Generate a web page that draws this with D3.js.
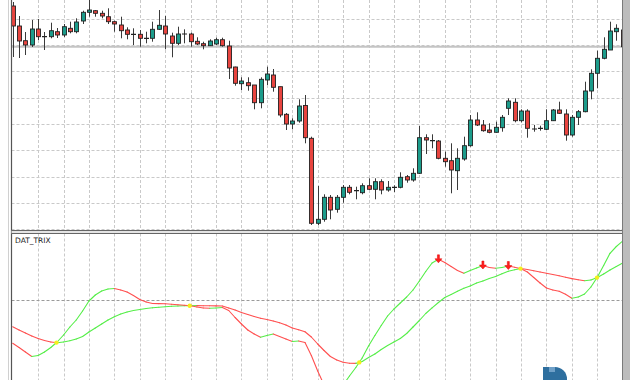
<!DOCTYPE html>
<html>
<head>
<meta charset="utf-8">
<script src="https://cdnjs.cloudflare.com/ajax/libs/d3/7.8.5/d3.min.js"></script>
<style>
body { margin:0; background:#ffffff; }
svg { display:block; }
</style>
</head>
<body>
<div id="chart"></div>
<script>
//Candles, bar 0 .. 96 (last one is the running bar)
const opens = [
  1.32340,1.32140,1.31993,1.31950,1.32110,1.32033,1.32033,1.32083,1.32050,1.32117,
  1.32083,1.32190,1.32277,1.32293,1.32267,1.32233,1.32183,1.32150,1.32100,1.32057,
  1.32057,1.32017,1.32017,1.32107,1.32140,1.32040,1.31967,1.32060,1.32060,1.31987,
  1.31963,1.31943,1.31960,1.32003,1.31940,1.31730,1.31563,1.31573,1.31550,1.31373,
  1.31600,1.31650,1.31533,1.31257,1.31160,1.31190,1.31345,1.31017,1.30167,1.30207,
  1.30427,1.30307,1.30427,1.30527,1.30493,1.30473,1.30543,1.30507,1.30583,1.30500,
  1.30527,1.30527,1.30633,1.30600,1.30667,1.31023,1.30993,1.30990,1.30817,1.30793,
  1.30693,1.30810,1.30943,1.31200,1.31150,1.31100,1.31077,1.31123,1.31317,1.31377,
  1.31193,1.31290,1.31110,1.31117,1.31107,1.31193,1.31300,1.31260,1.31050,1.31227,
  1.31283,1.31490,1.31667,1.31817,1.31900,1.32083,1.32100];
const highs = [
  1.32380,1.32240,1.32080,1.32200,1.32210,1.32080,1.32173,1.32120,1.32160,1.32183,
  1.32217,1.32293,1.32400,1.32300,1.32293,1.32317,1.32193,1.32233,1.32127,1.32117,
  1.32100,1.32083,1.32183,1.32300,1.32240,1.32073,1.32133,1.32107,1.32073,1.32027,
  1.31983,1.32007,1.32023,1.32023,1.31993,1.31733,1.31627,1.31627,1.31550,1.31627,
  1.31733,1.31710,1.31533,1.31270,1.31217,1.31407,1.31450,1.31033,1.30540,1.30457,
  1.30450,1.30450,1.30550,1.30550,1.30533,1.30567,1.30617,1.30617,1.30607,1.30590,
  1.30547,1.30677,1.30650,1.30717,1.31140,1.31057,1.31057,1.31000,1.30883,1.30967,
  1.30917,1.31033,1.31250,1.31277,1.31200,1.31167,1.31183,1.31250,1.31417,1.31417,
  1.31307,1.31307,1.31150,1.31143,1.31307,1.31310,1.31383,1.31307,1.31250,1.31300,
  1.31583,1.31707,1.31893,1.32027,1.32183,1.32157,1.32120];
const lows = [
  1.31830,1.31820,1.31850,1.31930,1.32000,1.31900,1.32017,1.32020,1.32030,1.32067,
  1.32067,1.32160,1.32233,1.32233,1.32217,1.32160,1.32083,1.32017,1.32007,1.31950,
  1.31933,1.31967,1.31983,1.32100,1.31907,1.31827,1.31950,1.31967,1.31933,1.31950,
  1.31907,1.31940,1.31950,1.31933,1.31610,1.31543,1.31500,1.31493,1.31307,1.31317,
  1.31550,1.31483,1.31227,1.31100,1.31107,1.31173,1.30967,1.30150,1.30150,1.30183,
  1.30207,1.30273,1.30373,1.30457,1.30407,1.30457,1.30500,1.30407,1.30457,1.30483,
  1.30480,1.30517,1.30573,1.30583,1.30660,1.30860,1.30917,1.30807,1.30733,1.30467,
  1.30500,1.30793,1.30933,1.31140,1.31083,1.31067,1.31073,1.31083,1.31250,1.31177,
  1.31177,1.31023,1.31083,1.31093,1.31100,1.31190,1.31260,1.30993,1.31033,1.31150,
  1.31277,1.31407,1.31517,1.31807,1.31900,1.31993,1.31930];
const closes = [
  1.32140,1.31990,1.31950,1.32110,1.32033,1.32033,1.32093,1.32050,1.32133,1.32083,
  1.32180,1.32277,1.32300,1.32267,1.32240,1.32183,1.32160,1.32093,1.32057,1.32057,
  1.32017,1.32017,1.32107,1.32147,1.32060,1.31967,1.32060,1.32060,1.31983,1.31960,
  1.31943,1.31990,1.32003,1.31943,1.31720,1.31567,1.31590,1.31543,1.31373,1.31607,
  1.31660,1.31527,1.31250,1.31160,1.31190,1.31340,1.31023,1.30167,1.30207,1.30427,
  1.30300,1.30427,1.30527,1.30477,1.30493,1.30543,1.30507,1.30583,1.30500,1.30527,
  1.30527,1.30627,1.30600,1.30667,1.31023,1.31000,1.30993,1.30817,1.30783,1.30700,
  1.30817,1.30943,1.31200,1.31150,1.31093,1.31077,1.31127,1.31227,1.31390,1.31193,
  1.31290,1.31117,1.31110,1.31117,1.31193,1.31300,1.31267,1.31050,1.31227,1.31283,
  1.31490,1.31667,1.31817,1.31907,1.32090,1.32117,1.31933];

//DAT_TRIX sub window values
const trixMain = [
  -0.0433,-0.0475,-0.0520,-0.0565,-0.0555,-0.0520,-0.0475,-0.0420,-0.0350,-0.0270,
  -0.0200,-0.0110,-0.0010,0.0050,0.0090,0.0110,0.0115,0.0100,0.0080,0.0045,
  0.0005,-0.0020,-0.0035,-0.0036,-0.0038,-0.0042,-0.0048,-0.0052,-0.0058,-0.0070,
  -0.0080,-0.0083,-0.0080,-0.0075,-0.0105,-0.0175,-0.0240,-0.0300,-0.0340,-0.0373,
  -0.0355,-0.0340,-0.0365,-0.0390,-0.0415,-0.0410,-0.0425,-0.0555,-0.0710,-0.0850,
  -0.0930,-0.0920,-0.0850,-0.0760,-0.0675,-0.0580,-0.0460,-0.0355,-0.0255,-0.0160,
  -0.0090,-0.0030,0.0030,0.0100,0.0190,0.0285,0.0370,0.0407,0.0375,0.0335,
  0.0295,0.0267,0.0295,0.0320,0.0345,0.0325,0.0317,0.0325,0.0340,0.0327,
  0.0313,0.0280,0.0225,0.0170,0.0120,0.0100,0.0087,0.0057,0.0017,0.0030,
  0.0060,0.0130,0.0228,0.0345,0.0467,0.0535,0.0590];
const trixSignal = [
  -0.0267,-0.0300,-0.0330,-0.0360,-0.0385,-0.0405,-0.0420,-0.0427,-0.0420,-0.0407,
  -0.0390,-0.0365,-0.0320,-0.0280,-0.0240,-0.0200,-0.0167,-0.0140,-0.0120,-0.0105,
  -0.0095,-0.0085,-0.0078,-0.0073,-0.0068,-0.0063,-0.0060,-0.0058,-0.0057,-0.0056,
  -0.0057,-0.0058,-0.0059,-0.0060,-0.0080,-0.0100,-0.0125,-0.0145,-0.0165,-0.0183,
  -0.0195,-0.0210,-0.0228,-0.0250,-0.0280,-0.0298,-0.0318,-0.0370,-0.0440,-0.0505,
  -0.0565,-0.0600,-0.0623,-0.0632,-0.0634,-0.0615,-0.0575,-0.0540,-0.0495,-0.0455,
  -0.0420,-0.0385,-0.0335,-0.0270,-0.0205,-0.0135,-0.0078,-0.0025,0.0025,0.0055,
  0.0087,0.0117,0.0140,0.0170,0.0190,0.0215,0.0235,0.0262,0.0287,0.0302,
  0.0315,0.0305,0.0292,0.0280,0.0267,0.0255,0.0242,0.0228,0.0214,0.0202,
  0.0193,0.0200,0.0225,0.0260,0.0300,0.0335,0.0370];
const sellArrowBars = [67, 74, 78];

//grid levels
const gridPrices = [1.32210,1.31948,1.31685,1.31423,1.31160,1.30898,1.30635,1.30373,1.30110];
const gridBarStep = 4;

//layout
const cWidth = 630, cHeight = 380;
const plotLeft = 11.5, plotRight = 622;
const mainTop = 0, mainBottom = 230.5;
const subTop = 233.5, subBottom = 380;
const colorBull = "#1c9c8b";
const colorBear = "#e8443f";
const colorUp = "#55ee48";
const colorDown = "#ff5050";
const colorGrid = "#c9c9c9";

let svg = d3.select("#chart").append("svg")
  .attr("width", cWidth)
  .attr("height", cHeight);

svg.append("rect").attr("width", "100%").attr("height", "100%").attr("fill", "#ffffff");

let defs = svg.append("defs");
defs.append("clipPath").attr("id", "clipMain").append("rect")
  .attr("x", plotLeft).attr("y", mainTop).attr("width", plotRight - plotLeft).attr("height", mainBottom - mainTop);
defs.append("clipPath").attr("id", "clipSub").append("rect")
  .attr("x", plotLeft).attr("y", subTop).attr("width", plotRight - plotLeft).attr("height", subBottom - subTop);

const x = d3.scaleLinear().domain([0, 96]).range([12.7, 622.7]);
const yMain = d3.scaleLinear().domain([1.3008, 1.3240]).range([232, 0]);
const ySub = d3.scaleLinear().domain([0.066, -0.080]).range([234, subBottom]);
const crisp = v => Math.round(v) + 0.5;

//grid
let mainG = svg.append("g").attr("clip-path", "url(#clipMain)");
let subG = svg.append("g").attr("clip-path", "url(#clipSub)");

mainG.selectAll("line.hgrid").data(gridPrices).enter().append("line")
  .attr("x1", plotLeft).attr("x2", plotRight)
  .attr("y1", d => crisp(yMain(d))).attr("y2", d => crisp(yMain(d)))
  .attr("stroke", colorGrid).attr("stroke-dasharray", "3,2");

const gridBars = d3.range(gridBarStep, opens.length - 1, gridBarStep);
[[mainG, mainTop, mainBottom], [subG, subTop, subBottom]].forEach(([g, t, b]) => {
  g.selectAll("line.vgrid").data(gridBars).enter().append("line")
    .attr("x1", d => crisp(x(d))).attr("x2", d => crisp(x(d)))
    .attr("y1", t).attr("y2", b)
    .attr("stroke", colorGrid).attr("stroke-dasharray", "3,2");
});

//bid line at last close
mainG.append("line")
  .attr("x1", plotLeft).attr("x2", plotRight)
  .attr("y1", yMain(closes[closes.length - 1])).attr("y2", yMain(closes[closes.length - 1]))
  .attr("stroke", "#c4c4c4").attr("stroke-width", 2);

//candles
const bars = opens.map((o, i) => ({i: i, o: o, h: highs[i], l: lows[i], c: closes[i]}));
let candles = mainG.append("g").selectAll("g").data(bars).enter().append("g");
candles.append("line")
  .attr("x1", d => crisp(x(d.i))).attr("x2", d => crisp(x(d.i)))
  .attr("y1", d => yMain(d.h)).attr("y2", d => yMain(d.l))
  .attr("stroke", "#3a3a3a").attr("stroke-width", 1);
candles.filter(d => d.o !== d.c).append("rect")
  .attr("x", d => crisp(x(d.i)) - 2)
  .attr("y", d => yMain(Math.max(d.o, d.c)))
  .attr("width", 4)
  .attr("height", d => Math.max(1, yMain(Math.min(d.o, d.c)) - yMain(Math.max(d.o, d.c))))
  .attr("fill", d => d.c > d.o ? colorBull : colorBear)
  .attr("stroke", "#222").attr("stroke-width", 0.9);
candles.filter(d => d.o === d.c).append("line")
  .attr("x1", d => crisp(x(d.i)) - 2.5).attr("x2", d => crisp(x(d.i)) + 2.5)
  .attr("y1", d => yMain(d.o)).attr("y2", d => yMain(d.o))
  .attr("stroke", "#222").attr("stroke-width", 1.2);

//sub window zero level
subG.append("line")
  .attr("x1", plotLeft).attr("x2", plotRight)
  .attr("y1", crisp(ySub(0))).attr("y2", crisp(ySub(0)))
  .attr("stroke", "#9a9a9a").attr("stroke-dasharray", "3,2");

//trix lines, coloured by slope
function drawSlopeLine(values) {
  let segs = d3.range(values.length - 1).map(i => ({i: i, a: values[i], b: values[i + 1]}));
  subG.append("g").selectAll("line").data(segs).enter().append("line")
    .attr("x1", d => x(d.i)).attr("x2", d => x(d.i + 1))
    .attr("y1", d => ySub(d.a)).attr("y2", d => ySub(d.b))
    .attr("stroke", d => d.b >= d.a ? colorUp : colorDown)
    .attr("stroke-width", 1.1)
    .attr("stroke-linecap", "round");
}
drawSlopeLine(trixSignal);
drawSlopeLine(trixMain);

//crossings
let crosses = [];
for (let i = 0; i < trixMain.length - 1; ++i) {
  let d0 = trixMain[i] - trixSignal[i];
  let d1 = trixMain[i + 1] - trixSignal[i + 1];
  if (d0 * d1 < 0) {
    let t = d0 / (d0 - d1);
    crosses.push({b: i + t, v: trixSignal[i] + t * (trixSignal[i + 1] - trixSignal[i])});
  }
}
subG.selectAll("circle.cross").data(crosses).enter().append("circle")
  .attr("cx", d => x(d.b)).attr("cy", d => ySub(d.v))
  .attr("r", 2.2).attr("fill", "#f4ef1c");

//sell arrows
subG.selectAll("path.arrow").data(sellArrowBars).enter().append("path")
  .attr("transform", d => `translate(${x(d)},${ySub(trixMain[d])})`)
  .attr("d", "M-1,-4.5 L1,-4.5 L1,-0.5 L3.5,-0.5 L0,3.5 L-3.5,-0.5 L-1,-0.5 Z")
  .attr("fill", "#ff1f1f").attr("stroke", "#e00000").attr("stroke-width", 0.5);

//indicator name
svg.append("text")
  .attr("x", 15).attr("y", 243)
  .style("font-family", "DejaVu Sans, sans-serif")
  .style("font-size", "7.5px")
  .style("fill", "#222")
  .text("DAT_TRIX");

//frames
svg.append("line").attr("x1", 8.5).attr("x2", 8.5).attr("y1", 0).attr("y2", cHeight)
  .attr("stroke", "#d0d0d0");
svg.append("line").attr("x1", 11.5).attr("x2", 11.5).attr("y1", 0).attr("y2", cHeight)
  .attr("stroke", "#555").attr("stroke-width", 1.2);
svg.append("rect").attr("x", plotLeft).attr("y", mainBottom).attr("width", plotRight - plotLeft).attr("height", subTop - mainBottom)
  .attr("fill", "#e4e4e4");
[mainBottom, subTop].forEach(yy => {
  svg.append("line").attr("x1", plotLeft).attr("x2", plotRight).attr("y1", yy).attr("y2", yy)
    .attr("stroke", "#666");
});
svg.append("rect").attr("x", plotRight).attr("y", 0).attr("width", cWidth - plotRight).attr("height", cHeight)
  .attr("fill", "#bcbcbc");
svg.append("line").attr("x1", plotRight + 0.5).attr("x2", plotRight + 0.5).attr("y1", 0).attr("y2", cHeight)
  .attr("stroke", "#7a7a7a");

//corner logo
let logo = svg.append("g").attr("transform", "translate(543,367)");
logo.append("path").attr("d", "M0,0 H12 A12,12 0 0 1 24,12 V13 H0 Z").attr("fill", "#2e6f9f");
logo.append("rect").attr("x", 6).attr("y", 0).attr("width", 6).attr("height", 5).attr("fill", "#6fa0c8");
</script>
</body>
</html>
